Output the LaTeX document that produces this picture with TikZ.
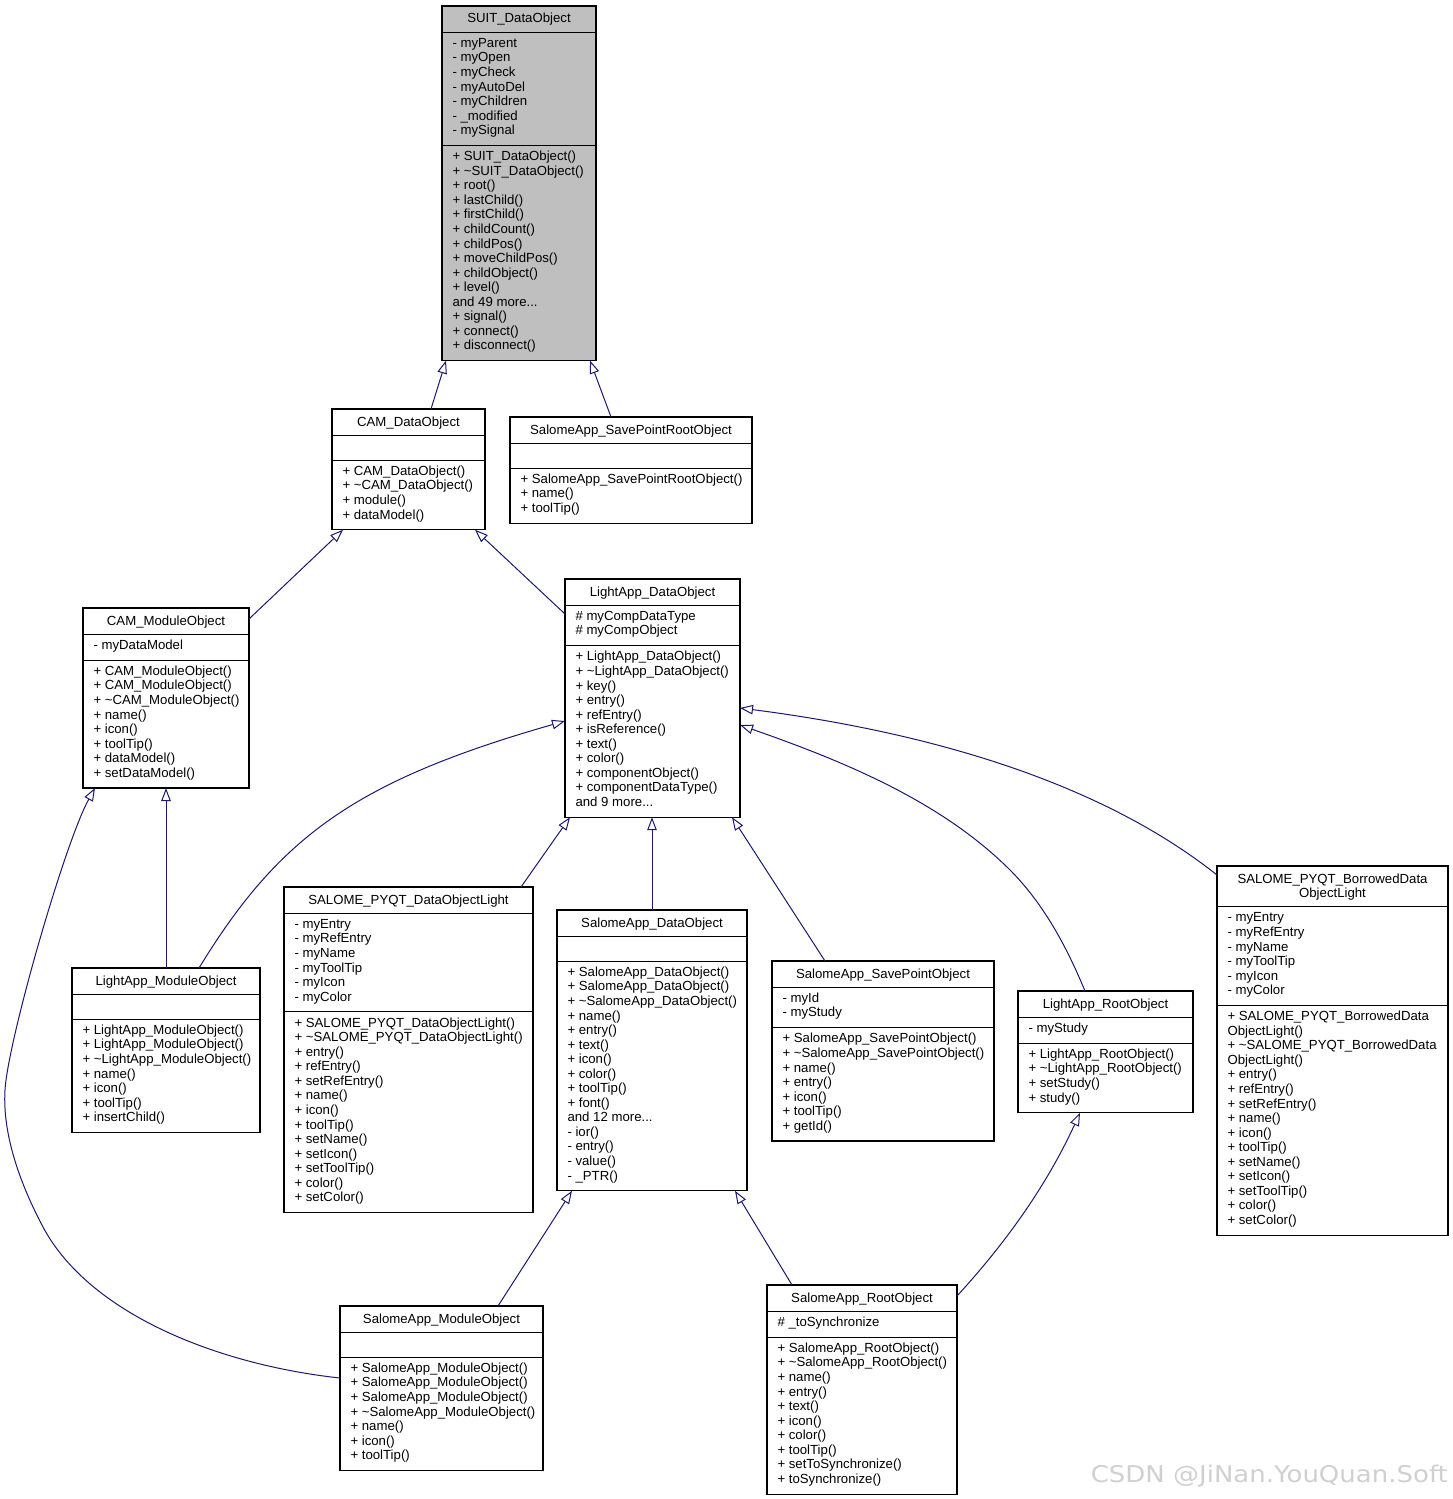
\documentclass[tikz,border=0pt]{standalone}
\usepackage{fontspec}
\usepackage{graphicx}
\setmainfont{Liberation Sans}
\newfontfamily\wmfont{DejaVu Sans}
\usetikzlibrary{arrows.meta,calc}
\definecolor{edgeblue}{HTML}{191970}
\definecolor{boxgray}{HTML}{BFBFBF}
\definecolor{wmgray}{RGB}{208,208,208}
\newcommand\tld{\textasciitilde}
\newcommand\Ln[1]{\hbox{#1}}
\newcommand\fs{\fontsize{13.2}{14.55}\selectfont}
\def\rh{14.55}
\def\pd{11.5}
\def\tn{1}
\def\clsfill{white}
\tikzset{
  classbox/.style={draw=black, line width=1.1pt, inner sep=0pt, outer sep=0pt, anchor=north west},
  txt/.style={inner sep=0pt, outer sep=0pt, anchor=base west, font=\fs},
  ttl/.style={inner sep=0pt, outer sep=0pt, anchor=base, font=\fs},
  inh/.style={draw=edgeblue, line width=1pt, -{Triangle[open, length=13pt, width=9.5pt]}},
  sepline/.style={draw=black, line width=1.1pt}
}
% #1 name, #2 x, #3 y, #4 width, #5 title, #6 n attr, #7 attrs, #8 n meth, #9 meths
\newcommand\cls[9]{%
  \pgfmathsetmacro\ya{#3+\tn*\rh+\pd}%
  \pgfmathsetmacro\yb{\ya+(#6==0)*25+(#6>0)*(#6*\rh+\pd)}%
  \pgfmathsetmacro\yc{\yb+(#8==0)*25+(#8>0)*(#8*\rh+\pd)}%
  \pgfmathsetmacro\hh{\yc-#3}%
  \node[classbox, fill=\clsfill, minimum width=#4pt, minimum height=\hh pt] (#1) at (#2,#3) {};
  \draw[sepline] (#1.west |- 0,\ya) -- (#1.east |- 0,\ya);
  \draw[sepline] (#1.west |- 0,\yb) -- (#1.east |- 0,\yb);
  \node[ttl] (#1-t) at (#2+#4/2, #3+17) {#5};
  \ifnum#6>0 \node[txt] (#1-a) at (#2+10.5, \ya+15.3) {\vtop{#7}};\fi
  \ifnum#8>0 \node[txt] (#1-m) at (#2+10.5, \yb+15.3) {\vtop{#9}};\fi
}
\begin{document}
\begin{tikzpicture}[x=1pt,y=-1pt]
\fill[white] (0,0) rectangle (1453,1499);
\useasboundingbox (0,0) rectangle (1453,1499);

\def\clsfill{boxgray}
\cls{suit}{442}{6}{154}{SUIT\_DataObject}{7}{%
\Ln{- myParent}\Ln{- myOpen}\Ln{- myCheck}\Ln{- myAutoDel}\Ln{- myChildren}\Ln{- \_modified}\Ln{- mySignal}}{14}{%
\Ln{+ SUIT\_DataObject()}\Ln{+ \tld SUIT\_DataObject()}\Ln{+ root()}\Ln{+ lastChild()}\Ln{+ firstChild()}\Ln{+ childCount()}\Ln{+ childPos()}\Ln{+ moveChildPos()}\Ln{+ childObject()}\Ln{+ level()}\Ln{and 49 more...}\Ln{+ signal()}\Ln{+ connect()}\Ln{+ disconnect()}}
\def\clsfill{white}

\cls{cam}{332}{409}{153}{CAM\_DataObject}{0}{}{4}{%
\Ln{+ CAM\_DataObject()}\Ln{+ \tld CAM\_DataObject()}\Ln{+ module()}\Ln{+ dataModel()}}

\cls{spr}{510}{417}{242}{SalomeApp\_SavePointRootObject}{0}{}{3}{%
\Ln{+ SalomeApp\_SavePointRootObject()}\Ln{+ name()}\Ln{+ toolTip()}}

\cls{camm}{83}{608}{166}{CAM\_ModuleObject}{1}{\Ln{- myDataModel}}{8}{%
\Ln{+ CAM\_ModuleObject()}\Ln{+ CAM\_ModuleObject()}\Ln{+ \tld CAM\_ModuleObject()}\Ln{+ name()}\Ln{+ icon()}\Ln{+ toolTip()}\Ln{+ dataModel()}\Ln{+ setDataModel()}}

\cls{lad}{565}{579}{175}{LightApp\_DataObject}{2}{\Ln{\# myCompDataType}\Ln{\# myCompObject}}{11}{%
\Ln{+ LightApp\_DataObject()}\Ln{+ \tld LightApp\_DataObject()}\Ln{+ key()}\Ln{+ entry()}\Ln{+ refEntry()}\Ln{+ isReference()}\Ln{+ text()}\Ln{+ color()}\Ln{+ componentObject()}\Ln{+ componentDataType()}\Ln{and 9 more...}}

\cls{lamo}{72}{968}{188}{LightApp\_ModuleObject}{0}{}{7}{%
\Ln{+ LightApp\_ModuleObject()}\Ln{+ LightApp\_ModuleObject()}\Ln{+ \tld LightApp\_ModuleObject()}\Ln{+ name()}\Ln{+ icon()}\Ln{+ toolTip()}\Ln{+ insertChild()}}

\cls{pyqt}{284}{887}{249}{SALOME\_PYQT\_DataObjectLight}{6}{%
\Ln{- myEntry}\Ln{- myRefEntry}\Ln{- myName}\Ln{- myToolTip}\Ln{- myIcon}\Ln{- myColor}}{13}{%
\Ln{+ SALOME\_PYQT\_DataObjectLight()}\Ln{+ \tld SALOME\_PYQT\_DataObjectLight()}\Ln{+ entry()}\Ln{+ refEntry()}\Ln{+ setRefEntry()}\Ln{+ name()}\Ln{+ icon()}\Ln{+ toolTip()}\Ln{+ setName()}\Ln{+ setIcon()}\Ln{+ setToolTip()}\Ln{+ color()}\Ln{+ setColor()}}

\cls{sad}{557}{910}{190}{SalomeApp\_DataObject}{0}{}{15}{%
\Ln{+ SalomeApp\_DataObject()}\Ln{+ SalomeApp\_DataObject()}\Ln{+ \tld SalomeApp\_DataObject()}\Ln{+ name()}\Ln{+ entry()}\Ln{+ text()}\Ln{+ icon()}\Ln{+ color()}\Ln{+ toolTip()}\Ln{+ font()}\Ln{and 12 more...}\Ln{- ior()}\Ln{- entry()}\Ln{- value()}\Ln{- \_PTR()}}

\cls{spo}{772}{961}{222}{SalomeApp\_SavePointObject}{2}{\Ln{- myId}\Ln{- myStudy}}{7}{%
\Ln{+ SalomeApp\_SavePointObject()}\Ln{+ \tld SalomeApp\_SavePointObject()}\Ln{+ name()}\Ln{+ entry()}\Ln{+ icon()}\Ln{+ toolTip()}\Ln{+ getId()}}

\cls{laro}{1018}{991}{175}{LightApp\_RootObject}{1}{\Ln{- myStudy}}{4}{%
\Ln{+ LightApp\_RootObject()}\Ln{+ \tld LightApp\_RootObject()}\Ln{+ setStudy()}\Ln{+ study()}}

\def\tn{2}
\cls{bdo}{1217}{866}{231}{\vtop{\hbox to 231pt{\hfil SALOME\_PYQT\_BorrowedData\hfil}\hbox to 231pt{\hfil ObjectLight\hfil}}}{6}{%
\Ln{- myEntry}\Ln{- myRefEntry}\Ln{- myName}\Ln{- myToolTip}\Ln{- myIcon}\Ln{- myColor}}{15}{%
\Ln{+ SALOME\_PYQT\_BorrowedData}\Ln{ObjectLight()}\Ln{+ \tld SALOME\_PYQT\_BorrowedData}\Ln{ObjectLight()}\Ln{+ entry()}\Ln{+ refEntry()}\Ln{+ setRefEntry()}\Ln{+ name()}\Ln{+ icon()}\Ln{+ toolTip()}\Ln{+ setName()}\Ln{+ setIcon()}\Ln{+ setToolTip()}\Ln{+ color()}\Ln{+ setColor()}}
\def\tn{1}

\cls{samo}{340}{1306}{203}{SalomeApp\_ModuleObject}{0}{}{7}{%
\Ln{+ SalomeApp\_ModuleObject()}\Ln{+ SalomeApp\_ModuleObject()}\Ln{+ SalomeApp\_ModuleObject()}\Ln{+ \tld SalomeApp\_ModuleObject()}\Ln{+ name()}\Ln{+ icon()}\Ln{+ toolTip()}}

\cls{saro}{767}{1285}{190}{SalomeApp\_RootObject}{1}{\Ln{\# \_toSynchronize}}{10}{%
\Ln{+ SalomeApp\_RootObject()}\Ln{+ \tld SalomeApp\_RootObject()}\Ln{+ name()}\Ln{+ entry()}\Ln{+ text()}\Ln{+ icon()}\Ln{+ color()}\Ln{+ toolTip()}\Ln{+ setToSynchronize()}\Ln{+ toSynchronize()}}

% inheritance connectors
\draw[inh] (431,0 |- cam.north) -- (446,0 |- suit.south);
\draw[inh] (611,0 |- spr.north) -- (590,0 |- suit.south);
\draw[inh] (camm.east |- 0,619) -- (343,0 |- cam.south);
\draw[inh] (lad.west |- 0,614) -- (475,0 |- cam.south);
\draw[inh] (199,0 |- lamo.north) .. controls (279,837) and (355,781) .. (lad.west |- 0,721);
\draw[inh] (166,0 |- lamo.north) -- (166,0 |- camm.south);
\draw[inh] (521,0 |- pyqt.north) -- (570,0 |- lad.south);
\draw[inh] (652,0 |- sad.north) -- (652,0 |- lad.south);
\draw[inh] (825,0 |- spo.north) -- (732,0 |- lad.south);
\draw[inh] (1085,0 |- laro.north) .. controls (1068,950) and (1045,905) .. (1010,870) .. controls (940,800) and (840,760) .. (lad.east |- 0,725);
\draw[inh] (bdo.west |- 0,875) .. controls (1110,790) and (950,735) .. (lad.east |- 0,708);
\draw[inh] (498,0 |- samo.north) -- (572,0 |- sad.south);
\draw[inh] (samo.west |- 0,1378) .. controls (220,1365) and (90,1315) .. (43,1227) .. controls (25,1193) and (2,1140) .. (5,1090) .. controls (8,1040) and (65,842) .. (95,0 |- camm.south);
\draw[inh] (792,0 |- saro.north) -- (735,0 |- sad.south);
\draw[inh] (saro.east |- 0,1296) .. controls (990,1260) and (1040,1200) .. (1080,0 |- laro.south);

\node[inner sep=0pt, anchor=base east, text=wmgray, font=\wmfont\fontsize{23}{23}\selectfont] (wm) at (1448,1482) {\scalebox{1.13}[1]{CSDN @JiNan.YouQuan.Soft}};
\end{tikzpicture}
\end{document}
